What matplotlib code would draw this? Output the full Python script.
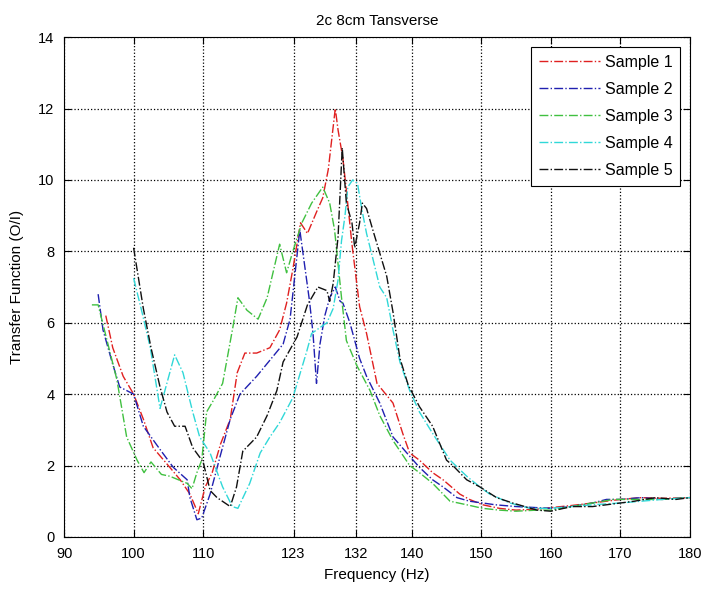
import matplotlib
matplotlib.use("Agg")
import matplotlib.pyplot as plt

plt.rcParams['font.family'] = ['Liberation Sans', 'DejaVu Sans']

# Sample 1 (red)
f1 = [96, 97, 98.5, 100, 101.4, 102.8, 105.2, 106.7, 108.1, 109.3, 110.3, 111.3, 112.5, 113.9, 114.9,
      116, 117.7, 119.6, 121, 122, 122.9, 124, 125, 126.3, 127.2, 128, 129, 129.4, 130.1, 130.6, 131.4,
      132.5, 133.5, 135, 137.3, 138.7, 139.7, 141.1, 143, 144.5, 146.9, 148.3, 150.2, 152.6, 155, 158,
      160, 163, 166, 170, 173, 176, 180]
s1 = [6.2, 5.3, 4.5, 4.0, 3.3, 2.5, 1.95, 1.6, 1.2, 0.65, 1.4, 1.8, 2.6, 3.3, 4.6,
      5.15, 5.15, 5.3, 5.8, 6.55, 7.5, 8.8, 8.5, 9.1, 9.5, 10.3, 12.0, 11.4, 10.6, 9.7, 8.2,
      6.45, 5.7, 4.3, 3.75, 2.9, 2.35, 2.15, 1.8, 1.6, 1.2, 1.05, 0.9, 0.8, 0.75, 0.78,
      0.82, 0.88, 0.95, 1.05, 1.1, 1.08, 1.1]

# Sample 2 (blue)
f2 = [94.9, 95.6, 96.9, 98, 100, 101.4, 103.8, 105.7, 107.7, 108.1, 109.1, 109.8, 111, 112.5, 113.9,
      115.3, 117.7, 119.6, 121.5, 122.5, 123.9, 124.6, 125.3, 125.8, 126.3, 126.8, 127.5, 128.2, 129,
      129.7, 130.1, 131.1, 132.5, 133.5, 135.4, 137.3, 139.3, 141.1, 143, 144.5, 146.5, 148.3, 150.2,
      152, 155, 160, 163, 166, 168, 170, 173, 176, 180]
s2 = [6.8, 5.8, 4.9, 4.2, 4.0, 3.1, 2.45, 1.95, 1.6, 1.1, 0.48, 0.53, 1.2, 2.3, 3.3,
      4.0, 4.5, 4.95, 5.4, 6.1, 8.6, 7.6, 6.6, 5.7, 4.3, 5.4, 6.2, 6.7, 7.0,
      6.6, 6.55, 6.0, 5.0, 4.5, 3.75, 2.8, 2.35, 1.95, 1.6, 1.4, 1.1, 1.0, 0.95,
      0.9, 0.85, 0.8, 0.85, 0.95, 1.05, 1.05, 1.1, 1.05, 1.1]

# Sample 3 (green)
f3 = [94, 94.9, 95.8, 97.6, 99, 100.5, 101.5, 102.5, 104, 105.2, 107.7, 108.4, 109.1, 109.8, 110.5,
      111.4, 112.8, 114.3, 115, 116.3, 117.9, 119.2, 121, 122, 122.9, 124.2, 125.6, 127.2, 128.2, 128.9,
      129.9, 130.6, 132.1, 134, 135.4, 137.3, 139.7, 141.1, 143, 145.5, 147.9, 150.2, 152.6, 155, 158,
      160, 163, 166, 169, 172, 176, 180]
s3 = [6.5, 6.5, 5.8, 4.4, 2.8, 2.15, 1.8, 2.1, 1.75, 1.7, 1.5, 1.35, 1.8, 2.15, 3.5,
      3.8, 4.3, 5.9, 6.7, 6.35, 6.1, 6.7, 8.2, 7.4, 8.0, 8.8, 9.35, 9.8, 9.35, 8.6,
      6.7, 5.5, 4.8, 4.1, 3.4, 2.7, 2.0, 1.8, 1.5, 1.0, 0.9, 0.8, 0.75, 0.72, 0.75,
      0.75, 0.85, 0.95, 1.05, 1.05, 1.05, 1.1]

# Sample 4 (cyan)
f4 = [100, 101.2, 102.4, 103.8, 105.9, 107.1, 108.5, 109.5, 111, 112.8, 114.2, 115, 116.7, 118.2,
      119.6, 121, 122.9, 124.9, 125.6, 127.8, 128.7, 129.4, 129.9, 130.4, 130.8, 131.5, 132.2, 132.8,
      133.5, 134.4, 135.4, 136.4, 137.3, 138.3, 139.7, 141.1, 143, 145.5, 147.9, 149.8, 151.2, 154.1,
      157, 160, 163, 166, 170, 173, 176, 180]
s4 = [7.25, 6.3, 5.3, 3.6, 5.1, 4.6, 3.5, 2.8, 2.35, 1.4, 0.85, 0.8, 1.5, 2.35,
      2.8, 3.2, 3.9, 5.2, 5.7, 6.0, 6.4, 7.2, 8.3, 9.0, 9.8, 10.0, 9.9, 9.2,
      8.5, 7.8, 7.0, 6.7, 5.8, 4.9, 4.1, 3.5, 2.9, 2.15, 1.7, 1.4, 1.2, 0.95,
      0.8, 0.8, 0.85, 0.9, 0.95, 1.0, 1.05, 1.1]

# Sample 5 (black)
f5 = [100, 101.4, 102.5, 103.8, 104.8, 105.9, 107.4, 108.5, 110, 111, 112, 113.9, 114.8, 115.7, 117.7,
      119.2, 120.6, 121.5, 123.5, 125, 126.5, 127.8, 128.2, 128.7, 129.4, 130, 130.6, 131.4, 131.8,
      132.5, 132.9, 133.5, 134.4, 135.4, 136.4, 137.3, 138.3, 139.5, 141.1, 143, 145, 145.9, 147.9,
      149.8, 152.2, 154.5, 158, 160, 163, 166, 168, 170, 172, 175, 178, 180]
s5 = [8.1, 6.4, 5.3, 4.2, 3.5, 3.1, 3.1, 2.5, 2.1, 1.3, 1.1, 0.85, 1.4, 2.4, 2.8,
      3.4, 4.1, 4.9, 5.6, 6.5, 7.0, 6.9, 6.6, 7.1, 8.4, 10.9, 9.35, 8.8, 8.1,
      8.8, 9.35, 9.2, 8.6, 7.95, 7.3, 6.3, 5.0, 4.25, 3.65, 3.1, 2.15, 2.0, 1.6,
      1.4, 1.1, 0.95, 0.75, 0.72, 0.85, 0.85, 0.9, 0.95, 1.0, 1.1, 1.05, 1.1]

labels = ['Sample 1', 'Sample 2', 'Sample 3', 'Sample 4', 'Sample 5']
colors = ['#e02020', '#2020b0', '#40c040', '#30d8d8', '#101010']
xticks = [90, 100, 110, 123, 132, 140, 150, 160, 170, 180]
yticks = [0, 2, 4, 6, 8, 10, 12, 14]

fig = plt.figure(figsize=(7.04, 5.90), dpi=100)
ax = fig.add_axes([0.091, 0.090, 0.889, 0.847])

for f, s, lab, c in zip([f1, f2, f3, f4, f5], [s1, s2, s3, s4, s5], labels, colors):
    ax.plot(f, s, linestyle='-.', color=c, linewidth=1.0, label=lab)

ax.set_xlim(90, 180)
ax.set_ylim(0, 14)
ax.set_xticks(xticks)
ax.set_yticks(yticks)
ax.grid(True, linestyle=':', color='black', linewidth=0.9)
ax.tick_params(direction='in', top=True, right=True, labelsize=10.5, length=5)
ax.tick_params(axis='x', pad=7)
ax.tick_params(axis='y', pad=7)
for sp in ax.spines.values():
    sp.set_linewidth(0.8)

ax.set_title('2c 8cm Tansverse', fontsize=11, pad=9)
ax.set_xlabel('Frequency (Hz)', fontsize=11, labelpad=5)
ax.set_ylabel('Transfer Function (O/I)', fontsize=11, labelpad=10)

leg = ax.legend(loc='upper right', fontsize=11.5, fancybox=False, framealpha=1,
                edgecolor='black', handlelength=3.8, handletextpad=0.3,
                labelspacing=0.75, borderpad=0.5, borderaxespad=0.6)
leg.get_frame().set_linewidth(0.8)

fig.savefig('out.png', dpi=100)
